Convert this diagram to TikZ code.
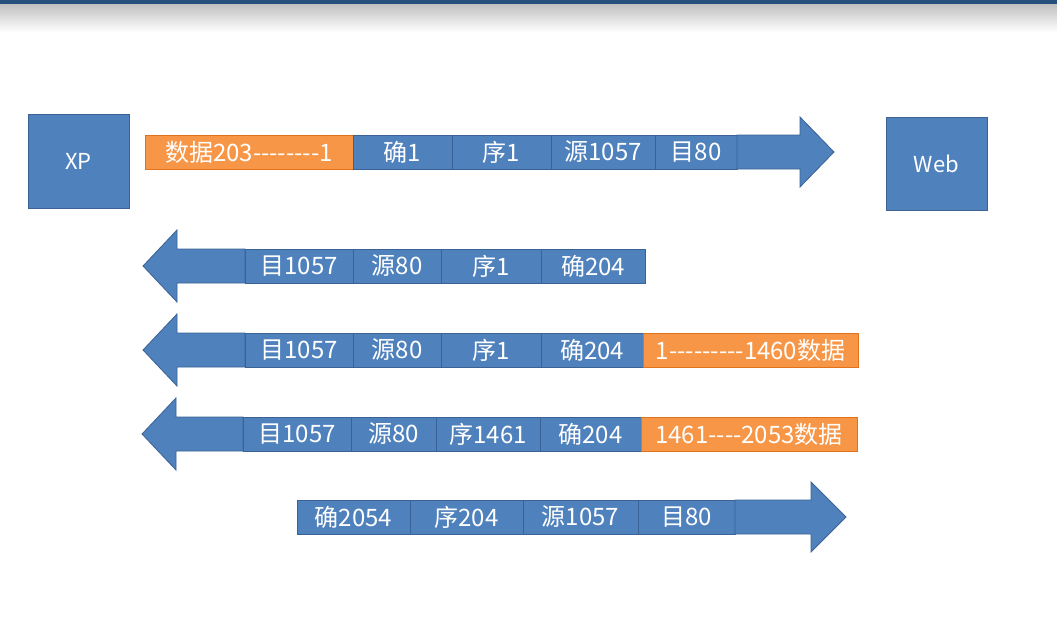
\documentclass[tikz,border=0pt]{standalone}
\usepackage{fontspec}
\usepackage{tikz}
\usetikzlibrary{positioning}
\newfontfamily\cjk{Noto Sans CJK SC}
\newcommand{\hy}{-\kern0pt}
\definecolor{cellblue}{HTML}{4F81BD}
\definecolor{cellline}{HTML}{3A6294}
\definecolor{dataorange}{HTML}{F79646}
\definecolor{dataline}{HTML}{E0721C}
\definecolor{topband}{HTML}{264F7C}

\begin{document}
\begin{tikzpicture}[
  x=1pt, y=-1pt,
  font=\cjk\fontsize{24}{27}\selectfont,
  cell/.style={draw=cellline, fill=cellblue, text=white, minimum height=34, inner sep=0pt, outer sep=0pt, line width=0.8pt},
  data/.style={cell, draw=dataline, fill=dataorange},
  host/.style={draw=cellline, fill=cellblue, text=white, minimum width=101, minimum height=94, inner sep=0pt, line width=0.8pt, font=\cjk\fontsize{22}{25}\selectfont},
  blk/.style={draw=cellline, fill=cellblue, line width=0.8pt, line join=miter}
]
\useasboundingbox (0,0) rectangle (1057,619);
\fill[white] (0,0) rectangle (1057,619);
\shade[top color=black!25, bottom color=white] (0,4) rectangle (1057,32);
\fill[topband] (0,0) rectangle (1057,4);

% hosts
\node[host] (xp) at (78.5,161) {XP};
\node[host, minimum height=93] (web) at (936.5,163.5) {Web};

% XP -> Web, first segment
\node[data, minimum width=208, anchor=west] (r1dat) at (145,152) {数据203\hy\hy\hy\hy\hy\hy\hy\hy 1};
\node[cell, minimum width=99, right=0pt of r1dat] (r1ack) {确1};
\node[cell, minimum width=99, right=0pt of r1ack] (r1seq) {序1};
\node[cell, minimum width=104, right=0pt of r1seq] (r1src) {源1057};
\node[cell, minimum width=82, right=0pt of r1src] (r1dst) {目80};
\draw[blk] (r1dst.north east) -- (800,135) -- (800,117) -- (834,152) -- (800,187) -- (800,169) -- (r1dst.south east) -- cycle;

% Web -> XP, ack
\node[cell, minimum width=108, anchor=west] (r2dst) at (245,266) {目1057};
\node[cell, minimum width=88, right=0pt of r2dst] (r2src) {源80};
\node[cell, minimum width=100, right=0pt of r2src] (r2seq) {序1};
\node[cell, minimum width=104, right=0pt of r2seq] (r2ack) {确204};
\draw[blk] (r2dst.north west) -- (177,249) -- (177,230) -- (143,266) -- (177,302) -- (177,283) -- (r2dst.south west) -- cycle;

% Web -> XP, data 1-1460
\node[cell, minimum width=108, anchor=west] (r3dst) at (245,350) {目1057};
\node[cell, minimum width=88, right=0pt of r3dst] (r3src) {源80};
\node[cell, minimum width=100, right=0pt of r3src] (r3seq) {序1};
\node[cell, minimum width=102, right=0pt of r3seq] (r3ack) {确204};
\node[data, minimum width=215, right=0pt of r3ack] (r3dat) {1\hy\hy\hy\hy\hy\hy\hy\hy\hy 1460数据};
\draw[blk] (r3dst.north west) -- (177,333) -- (177,314) -- (143,350) -- (177,386) -- (177,367) -- (r3dst.south west) -- cycle;

% Web -> XP, data 1461-2053
\node[cell, minimum width=108, anchor=west] (r4dst) at (243,434) {目1057};
\node[cell, minimum width=85, right=0pt of r4dst] (r4src) {源80};
\node[cell, minimum width=104, right=0pt of r4src] (r4seq) {序1461};
\node[cell, minimum width=101, right=0pt of r4seq] (r4ack) {确204};
\node[data, minimum width=216, right=0pt of r4ack] (r4dat) {1461\hy\hy\hy\hy 2053数据};
\draw[blk] (r4dst.north west) -- (176,417) -- (176,398) -- (142,434) -- (176,470) -- (176,451) -- (r4dst.south west) -- cycle;

% XP -> Web, ack
\node[cell, minimum width=113, anchor=west] (r5ack) at (297,517) {确2054};
\node[cell, minimum width=113, right=0pt of r5ack] (r5seq) {序204};
\node[cell, minimum width=115, right=0pt of r5seq] (r5src) {源1057};
\node[cell, minimum width=97, right=0pt of r5src] (r5dst) {目80};
\draw[blk] (r5dst.north east) -- (811,500) -- (811,482) -- (846,517) -- (811,552) -- (811,534) -- (r5dst.south east) -- cycle;
\end{tikzpicture}
\end{document}
